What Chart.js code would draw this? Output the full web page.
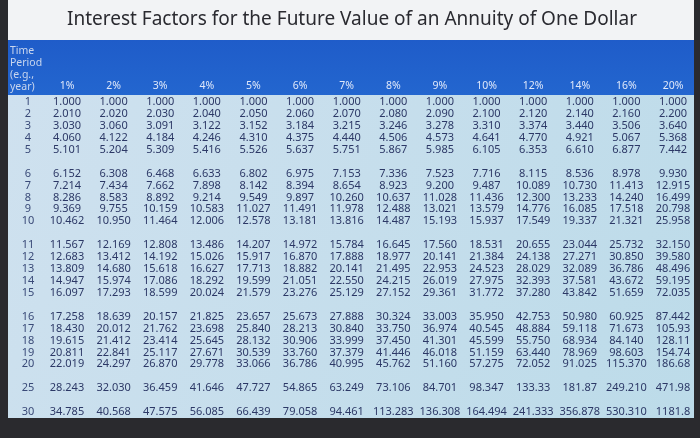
<!DOCTYPE html>
<html>
  <head>
    <style>
      * { margin: 0; padding: 0; }
      body { width: 700px; height: 438px; overflow: hidden; background: #2a2a2e; }
      #wrap { width: 700px; height: 438px; }
    </style>
  </head>
  <body>
    <div id="wrap"><canvas id="myChart"></canvas></div>
    <script src="https://cdn.jsdelivr.net/npm/chart.js/dist/chart.umd.min.js"></script>
    <script>
      const title = "Interest Factors for the Future Value of an Annuity of One Dollar";
      const rates = ["1%", "2%", "3%", "4%", "5%", "6%", "7%", "8%", "9%", "10%", "12%", "14%", "16%", "20%"];
      // row slots on the y axis, blank ones are the gaps between groups
      const rowSlots = ["1","2","3","4","5","","6","7","8","9","10"," ","11","12","13","14","15","  ","16","17","18","19","20","   ","25","    ","30"];
      const years = [1,2,3,4,5,6,7,8,9,10,11,12,13,14,15,16,17,18,19,20,25,30];

      const y1 = ["1.000","1.000","1.000","1.000","1.000","1.000","1.000","1.000","1.000","1.000","1.000","1.000","1.000","1.000"];
      const y2 = ["2.010","2.020","2.030","2.040","2.050","2.060","2.070","2.080","2.090","2.100","2.120","2.140","2.160","2.200"];
      const y3 = ["3.030","3.060","3.091","3.122","3.152","3.184","3.215","3.246","3.278","3.310","3.374","3.440","3.506","3.640"];
      const y4 = ["4.060","4.122","4.184","4.246","4.310","4.375","4.440","4.506","4.573","4.641","4.770","4.921","5.067","5.368"];
      const y5 = ["5.101","5.204","5.309","5.416","5.526","5.637","5.751","5.867","5.985","6.105","6.353","6.610","6.877","7.442"];
      const y6 = ["6.152","6.308","6.468","6.633","6.802","6.975","7.153","7.336","7.523","7.716","8.115","8.536","8.978","9.930"];
      const y7 = ["7.214","7.434","7.662","7.898","8.142","8.394","8.654","8.923","9.200","9.487","10.089","10.730","11.413","12.915"];
      const y8 = ["8.286","8.583","8.892","9.214","9.549","9.897","10.260","10.637","11.028","11.436","12.300","13.233","14.240","16.499"];
      const y9 = ["9.369","9.755","10.159","10.583","11.027","11.491","11.978","12.488","13.021","13.579","14.776","16.085","17.518","20.798"];
      const y10 = ["10.462","10.950","11.464","12.006","12.578","13.181","13.816","14.487","15.193","15.937","17.549","19.337","21.321","25.958"];
      const y11 = ["11.567","12.169","12.808","13.486","14.207","14.972","15.784","16.645","17.560","18.531","20.655","23.044","25.732","32.150"];
      const y12 = ["12.683","13.412","14.192","15.026","15.917","16.870","17.888","18.977","20.141","21.384","24.138","27.271","30.850","39.580"];
      const y13 = ["13.809","14.680","15.618","16.627","17.713","18.882","20.141","21.495","22.953","24.523","28.029","32.089","36.786","48.496"];
      const y14 = ["14.947","15.974","17.086","18.292","19.599","21.051","22.550","24.215","26.019","27.975","32.393","37.581","43.672","59.195"];
      const y15 = ["16.097","17.293","18.599","20.024","21.579","23.276","25.129","27.152","29.361","31.772","37.280","43.842","51.659","72.035"];
      const y16 = ["17.258","18.639","20.157","21.825","23.657","25.673","27.888","30.324","33.003","35.950","42.753","50.980","60.925","87.442"];
      const y17 = ["18.430","20.012","21.762","23.698","25.840","28.213","30.840","33.750","36.974","40.545","48.884","59.118","71.673","105.93"];
      const y18 = ["19.615","21.412","23.414","25.645","28.132","30.906","33.999","37.450","41.301","45.599","55.750","68.934","84.140","128.11"];
      const y19 = ["20.811","22.841","25.117","27.671","30.539","33.760","37.379","41.446","46.018","51.159","63.440","78.969","98.603","154.74"];
      const y20 = ["22.019","24.297","26.870","29.778","33.066","36.786","40.995","45.762","51.160","57.275","72.052","91.025","115.370","186.68"];
      const y25 = ["28.243","32.030","36.459","41.646","47.727","54.865","63.249","73.106","84.701","98.347","133.33","181.87","249.210","471.98"];
      const y30 = ["34.785","40.568","47.575","56.085","66.439","79.058","94.461","113.283","136.308","164.494","241.333","356.878","530.310","1181.8"];

      const rows = [y1,y2,y3,y4,y5,y6,y7,y8,y9,y10,y11,y12,y13,y14,y15,y16,y17,y18,y19,y20,y25,y30];

      const datasets = rows.map((row, r) => ({
        label: String(years[r]),
        data: row.map((v, i) => ({ x: rates[i], y: String(years[r]), v: v })),
        pointRadius: 0,
        showLine: false,
      }));

      const FONT = '"Noto Sans", sans-serif';

      // draws the photo-like background: white title band, blue header, light blue body
      const tableBack = {
        id: "tableBack",
        beforeDraw(chart) {
          const c = chart.ctx;
          c.save();
          c.fillStyle = "#2a2a2e";
          c.fillRect(0, 0, 700, 438);
          c.fillStyle = "#f2f3f5";
          c.fillRect(8, 0, 686, 40);
          const hg = c.createLinearGradient(0, 40, 0, 95);
          hg.addColorStop(0, "#1f5cc9");
          hg.addColorStop(1, "#2366cf");
          c.fillStyle = hg;
          c.fillRect(8, 40, 686, 55);
          const bg = c.createLinearGradient(0, 95, 700, 418);
          bg.addColorStop(0, "#cfe1ef");
          bg.addColorStop(1, "#bcdbe9");
          c.fillStyle = bg;
          c.fillRect(8, 95, 686, 323);
          c.fillStyle = "#2a2a30";
          c.font = "19px " + FONT;
          c.textAlign = "center";
          c.textBaseline = "middle";
          c.fillText(title, 352, 20);
          c.fillStyle = "#c9d6ee";
          c.font = "10.5px " + FONT;
          c.textAlign = "left";
          ["Time", "Period", "(e.g.,", "year)"].forEach((t, i) => c.fillText(t, 10, 51 + i * 12));
          c.restore();
        },
        afterDatasetsDraw(chart) {
          const c = chart.ctx;
          const xs = chart.scales.x, ys = chart.scales.y;
          c.save();
          c.textAlign = "center";
          c.textBaseline = "middle";
          c.font = "10.5px " + FONT;
          c.fillStyle = "#dfe8fa";
          rates.forEach((r) => c.fillText(r, xs.getPixelForValue(rates.indexOf(r)), 86));
          c.font = "11px " + FONT;
          c.fillStyle = "#3a4a78";
          years.forEach((y) => c.fillText(String(y), 28, ys.getPixelForValue(rowSlots.indexOf(String(y)))));
          c.fillStyle = "#2c3866";
          chart.data.datasets.forEach((ds, di) => {
            chart.getDatasetMeta(di).data.forEach((pt, i) => c.fillText(ds.data[i].v, pt.x, pt.y));
          });
          c.restore();
        },
      };

      const config = {
        type: "scatter",
        data: { datasets },
        options: {
          responsive: true,
          maintainAspectRatio: false,
          animation: false,
          layout: { padding: { left: 67, right: 27, top: 102, bottom: 26 } },
          plugins: { legend: { display: false }, tooltip: { enabled: false } },
          scales: {
            x: { type: "category", labels: rates, offset: false, display: false },
            y: { type: "category", labels: rowSlots, offset: false, display: false },
          },
        },
        plugins: [tableBack],
      };

      const myChart = new Chart(document.getElementById("myChart"), config);
    </script>
  </body>
</html>
